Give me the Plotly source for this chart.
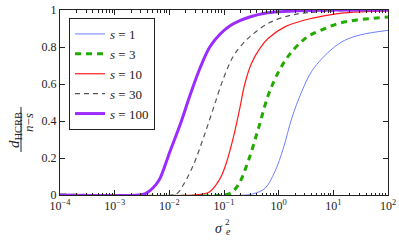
import plotly.graph_objects as go

# Values: x given as log10(sigma_e^2) exponents, y = d_HCRB/(n-s)
s_labels = ["<i>s</i> = 1", "<i>s</i> = 3", "<i>s</i> = 10", "<i>s</i> = 30", "<i>s</i> = 100"]

exp_s1 = [-4, -0.6, -0.45, -0.25, -0.07, 0.085, 0.24, 0.42, 0.6, 0.8, 1.0, 1.2, 1.5, 2]
val_s1 = [0, 0, 0.008, 0.036, 0.126, 0.252, 0.415, 0.558, 0.667, 0.74, 0.795, 0.835, 0.866, 0.89]

exp_s3 = [-4, -1.0, -0.88, -0.74, -0.56, -0.37, -0.19, 0.0, 0.2, 0.42, 0.6, 0.85, 1.1, 1.43, 2]
val_s3 = [0, 0, 0.01, 0.054, 0.18, 0.36, 0.54, 0.667, 0.76, 0.83, 0.868, 0.9, 0.928, 0.946, 0.962]

exp_s10 = [-4, -1.55, -1.4, -1.26, -1.07, -0.95, -0.83, -0.71, -0.62, -0.5, -0.35, -0.19, 0.12, 0.48, 0.85, 1.12, 1.5, 2]
val_s10 = [0, 0, 0.005, 0.018, 0.09, 0.18, 0.31, 0.47, 0.6, 0.71, 0.79, 0.847, 0.91, 0.946, 0.97, 0.982, 0.99, 0.995]

exp_s30 = [-4, -1.95, -1.85, -1.745, -1.56, -1.38, -1.195, -1.01, -0.83, -0.65, -0.49, -0.19, 0.24, 0.72, 1.2, 2]
val_s30 = [0, 0, 0.01, 0.054, 0.162, 0.306, 0.468, 0.63, 0.75, 0.82, 0.865, 0.928, 0.973, 0.99, 0.996, 1]

exp_s100 = [-4, -2.55, -2.45, -2.35, -2.25, -2.17, -1.99, -1.805, -1.62, -1.44, -1.26, -1.07, -0.89, -0.71, -0.5, -0.25, 0, 0.5, 1, 2]
val_s100 = [0, 0, 0.006, 0.025, 0.055, 0.09, 0.234, 0.378, 0.54, 0.685, 0.8, 0.87, 0.915, 0.943, 0.965, 0.982, 0.99, 0.997, 1, 1]

y_ticks = [0, 0.2, 0.4, 0.6, 0.8, 1]
y_ticklabels = ["0", "0.2", "0.4", "0.6", "0.8", "1"]
x_ticks = [1e-4, 1e-3, 1e-2, 1e-1, 1e0, 1e1, 1e2]
x_ticklabels = ["10<sup>\u22124</sup>", "10<sup>\u22123</sup>", "10<sup>\u22122</sup>", "10<sup>\u22121</sup>",
                "10<sup>0</sup>", "10<sup>1</sup>", "10<sup>2</sup>"]

series = [
    (exp_s1, val_s1, dict(color="#6b7fff", width=1)),
    (exp_s3, val_s3, dict(color="#22aa00", width=3, dash="6px,5px")),
    (exp_s10, val_s10, dict(color="#ff1a1a", width=1.2)),
    (exp_s30, val_s30, dict(color="#555555", width=1.2, dash="5px,4px")),
    (exp_s100, val_s100, dict(color="#9b2cff", width=3)),
]

FONT = "Liberation Serif, Times New Roman, serif"
fig = go.Figure()
for i, (ex, vals, ln) in enumerate(series):
    fig.add_trace(go.Scatter(
        x=[10 ** e for e in ex], y=vals, mode="lines", name=s_labels[i],
        line=dict(shape="spline", smoothing=1.0, **ln),
        legendgroup=f"g{i}",
    ))

L, R, T, B = 60, 11, 10, 45
W, H = 399, 240
pw, ph = W - L - R, H - T - B

def px(x):
    return (x - L) / pw

def py(y):
    return (H - B - y) / ph

AX = "#222"
fig.update_layout(
    width=W, height=H,
    margin=dict(l=L, r=R, t=T, b=B, autoexpand=False),
    paper_bgcolor="white", plot_bgcolor="white",
    font=dict(family=FONT, size=12, color="#222"),
    showlegend=True,
    legend=dict(x=px(69), y=py(18), xanchor="left", yanchor="top",
                bordercolor="#222", borderwidth=1, bgcolor="white",
                font=dict(family=FONT, size=13), tracegroupgap=0,
                itemwidth=30),
    xaxis=dict(type="log", range=[-4, 2], tickvals=x_ticks, ticktext=x_ticklabels,
               showgrid=False, zeroline=False, showline=True, linecolor=AX,
               linewidth=1, mirror="ticks", ticks="inside", ticklen=5,
               tickcolor=AX, automargin=False,
               minor=dict(ticks="inside", ticklen=2.5, dtick="D1", tickcolor=AX, showgrid=False),
               tickfont=dict(family=FONT, size=12)),
    yaxis=dict(range=[0, 1], tickvals=y_ticks, ticktext=y_ticklabels,
               showgrid=False, zeroline=False, showline=True, linecolor=AX,
               linewidth=1, mirror="ticks", ticks="inside", ticklen=5,
               tickcolor=AX, automargin=False, tickfont=dict(family=FONT, size=12)),
)

ann = []
# y-axis title as a fraction
ann.append(dict(text="<i>d</i><sub>HCRB</sub>", x=px(15), y=py(130), xref="paper", yref="paper",
                showarrow=False, textangle=-90, font=dict(family=FONT, size=15, color="#222"),
                xanchor="center", yanchor="middle"))
ann.append(dict(text="<i>n</i>\u2212<i>s</i>", x=px(28), y=py(123), xref="paper", yref="paper",
                showarrow=False, textangle=-90, font=dict(family=FONT, size=13, color="#222"),
                xanchor="center", yanchor="middle"))
# x-axis title sigma_e^2
ann.append(dict(text="<i>σ</i>", x=px(219), y=py(229), xref="paper", yref="paper",
                showarrow=False, font=dict(family=FONT, size=14, color="#222"),
                xanchor="center", yanchor="middle"))
ann.append(dict(text="2", x=px(227.5), y=py(222), xref="paper", yref="paper",
                showarrow=False, font=dict(family=FONT, size=9, color="#222"),
                xanchor="center", yanchor="middle"))
ann.append(dict(text="<i>e</i>", x=px(228), y=py(231), xref="paper", yref="paper",
                showarrow=False, font=dict(family=FONT, size=10, color="#222"),
                xanchor="center", yanchor="middle"))
fig.update_layout(annotations=ann)
fig.add_shape(type="line", xref="paper", yref="paper", x0=px(21), x1=px(21), y0=py(107), y1=py(152),
              line=dict(color="#222", width=1))

fig.write_html("out.html", config={"displayModeBar": False},
               post_script="document.body.style.margin='0';document.body.style.padding='0';")
